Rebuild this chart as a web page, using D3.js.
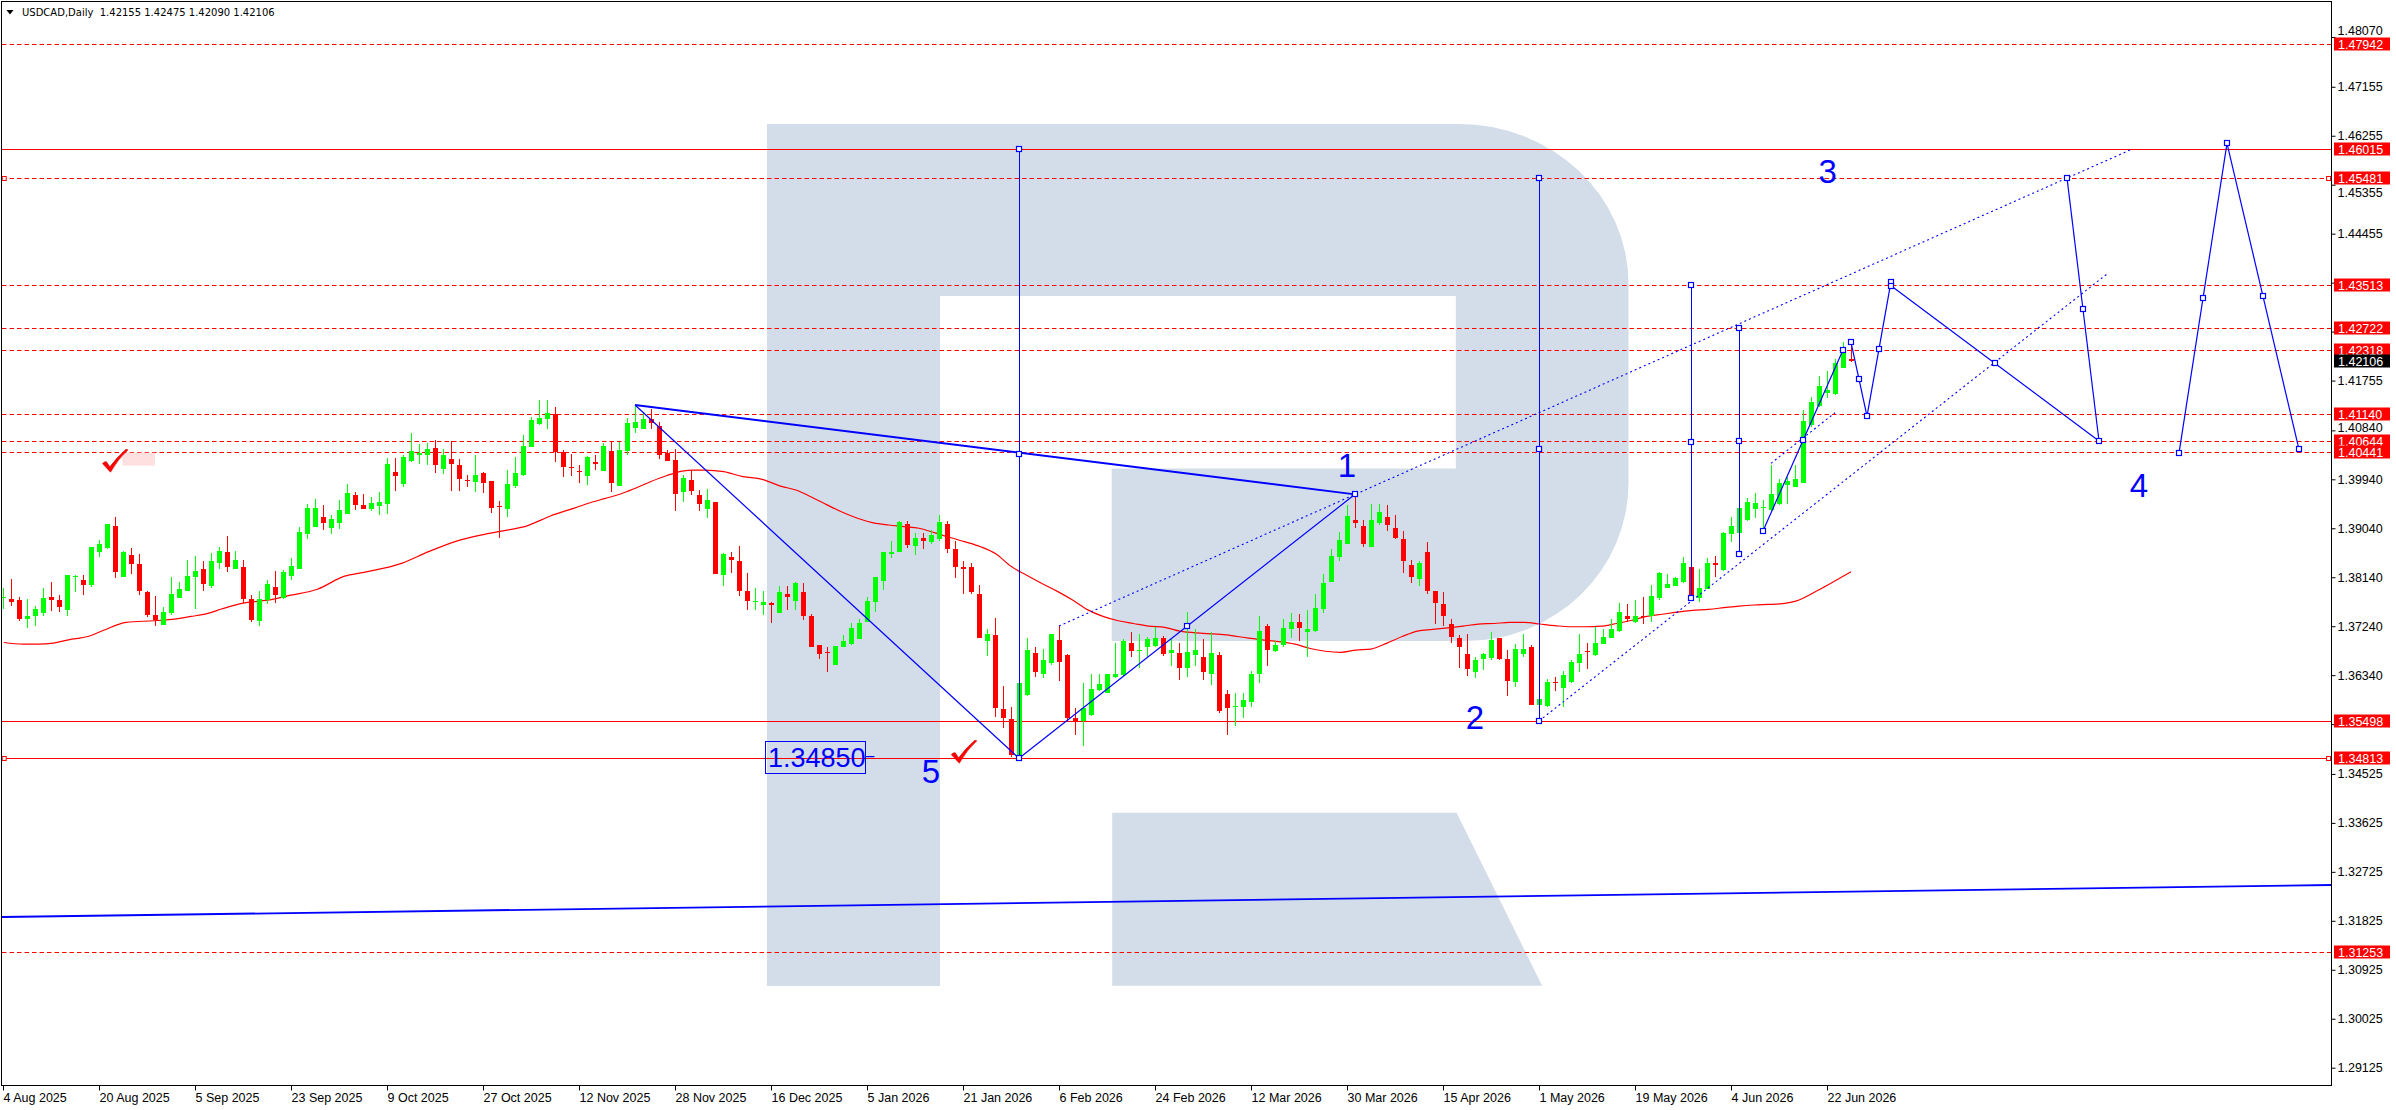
<!DOCTYPE html>
<html>
<head>
<meta charset="utf-8">
<script src="https://cdn.jsdelivr.net/npm/d3@7"></script>
<style>
html, body { margin: 0; padding: 0; background: #fff; }
svg { display: block; }
</style>
</head>
<body>
<svg id="chart" width="2396" height="1110"></svg>
<script>
// Data *************************************************************************
// daily candles, USDCAD, bar 0 = 4 Aug 2025
var openP = [
 1.3775,1.3774,1.3772,1.3737,1.3742,1.3748,1.3777,1.3772,1.3754,1.3814,1.3809,1.3799,
 1.3861,1.3868,1.3909,1.3815,1.3855,1.3838,1.3787,1.3745,1.3726,1.3748,1.3775,1.3789,
 1.3815,1.3829,1.3797,1.3840,1.3860,1.3830,1.3832,1.3774,1.3734,1.3772,1.3796,1.3775,
 1.3816,1.3830,1.3893,1.3907,1.3924,1.3905,1.3914,1.3930,1.3965,1.3947,1.3940,1.3945,
 1.3949,1.4008,1.3985,1.4028,1.4038,1.4038,1.4051,1.4013,1.4031,1.4020,1.3992,1.3989,
 1.4006,1.3990,1.3945,1.3939,1.3981,1.4002,1.4054,1.4095,1.4104,1.4114,1.4044,1.4016,
 1.4010,1.4001,1.4025,1.4010,1.4046,1.3982,1.4046,1.4089,1.4087,1.4105,1.4092,1.4042,
 1.4030,1.3971,1.3993,1.3966,1.3939,1.3952,1.3818,1.3851,1.3844,1.3789,1.3768,1.3763,
 1.3766,1.3749,1.3783,1.3771,1.3786,1.3743,1.3690,1.3677,1.3653,1.3686,1.3691,1.3700,
 1.3731,1.3769,1.3808,1.3856,1.3860,1.3911,1.3872,1.3886,1.3879,1.3884,1.3912,1.3866,
 1.3832,1.3832,1.3784,1.3696,1.3708,1.3572,1.3553,1.3484,1.3598,1.3674,1.3637,1.3656,
 1.3699,1.3671,1.3555,1.3549,1.3561,1.3607,1.3601,1.3630,1.3634,1.3693,1.3679,1.3686,
 1.3688,1.3703,1.3674,1.3674,1.3647,1.3671,1.3667,1.3637,1.3671,1.3599,1.3575,1.3576,
 1.3585,1.3636,1.3724,1.3678,1.3689,1.3719,1.3731,1.3713,1.3716,1.3755,1.3806,1.3852,
 1.3876,1.3919,1.3908,1.3870,1.3913,1.3925,1.3904,1.3884,1.3836,1.3810,1.3860,1.3789,
 1.3765,1.3728,1.3703,1.3673,1.3640,1.3664,1.3665,1.3702,1.3664,1.3621,1.3672,1.3686,
 1.3579,1.3578,1.3621,1.3610,1.3621,1.3657,1.3678,1.3671,1.3692,1.3703,1.3716,1.3742,
 1.3731,1.3743,1.3742,1.3775,1.3795,1.3798,1.3806,1.3832,1.3775,1.3792,1.3840,1.3827,
 1.3893,1.3895,1.3919,1.3939,1.3942,1.3937,1.3949,1.3984,1.3980,1.3988,1.4094,1.4129,
 1.4152,1.4151,1.4199,1.42155
];
var highP = [
 1.3794,1.3810,1.3778,1.3774,1.3762,1.3794,1.3806,1.3781,1.3818,1.3818,1.3818,1.3870,
 1.3882,1.3912,1.3925,1.3862,1.3868,1.3857,1.3789,1.3780,1.3760,1.3814,1.3806,1.3846,
 1.3853,1.3843,1.3859,1.3869,1.3890,1.3862,1.3846,1.3781,1.3788,1.3809,1.3826,1.3827,
 1.3849,1.3907,1.3949,1.3958,1.3947,1.3928,1.3956,1.3985,1.3970,1.3967,1.3961,1.3970,
 1.4033,1.4033,1.4039,1.4080,1.4059,1.4060,1.4066,1.4050,1.4065,1.4031,1.4002,1.4039,
 1.4008,1.3990,1.3954,1.4012,1.4035,1.4076,1.4108,1.4140,1.4140,1.4126,1.4048,1.4041,
 1.4020,1.4037,1.4039,1.4060,1.4062,1.4062,1.4106,1.4131,1.4117,1.4123,1.4100,1.4048,
 1.4050,1.4002,1.4011,1.3974,1.3976,1.3953,1.3858,1.3860,1.3871,1.3821,1.3794,1.3788,
 1.3769,1.3798,1.3797,1.3805,1.3804,1.3747,1.3690,1.3686,1.3688,1.3708,1.3729,1.3737,
 1.3778,1.3815,1.3861,1.3881,1.3917,1.3917,1.3896,1.3896,1.3901,1.3928,1.3918,1.3881,
 1.3843,1.3841,1.3800,1.3719,1.3739,1.3615,1.3576,1.3619,1.3703,1.3685,1.3683,1.3709,
 1.3724,1.3672,1.3573,1.3619,1.3636,1.3637,1.3637,1.3693,1.3700,1.3713,1.3709,1.3705,
 1.3722,1.3706,1.3701,1.3693,1.3751,1.3718,1.3700,1.3714,1.3677,1.3607,1.3601,1.3602,
 1.3642,1.3742,1.3728,1.3697,1.3737,1.3748,1.3746,1.3753,1.3784,1.3820,1.3865,1.3898,
 1.3947,1.3967,1.3919,1.3948,1.3948,1.3947,1.3928,1.3899,1.3846,1.3844,1.3878,1.3789,
 1.3787,1.3737,1.3708,1.3710,1.3668,1.3675,1.3713,1.3703,1.3680,1.3692,1.3710,1.3689,
 1.3590,1.3627,1.3630,1.3642,1.3661,1.3710,1.3694,1.3723,1.3718,1.3737,1.3766,1.3764,
 1.3773,1.3778,1.3800,1.3824,1.3820,1.3814,1.3851,1.3851,1.3829,1.3849,1.3853,1.3898,
 1.3924,1.3968,1.3959,1.3968,1.3956,1.4020,1.3994,1.3999,1.4020,1.4121,1.4146,1.4183,
 1.4193,1.4216,1.4247,1.42475
];
var lowP = [
 1.3755,1.3761,1.3734,1.3720,1.3724,1.3743,1.3752,1.3751,1.3743,1.3786,1.3781,1.3796,
 1.3852,1.3865,1.3813,1.3815,1.3820,1.3781,1.3740,1.3724,1.3726,1.3745,1.3775,1.3789,
 1.3756,1.3788,1.3794,1.3829,1.3824,1.3829,1.3766,1.3732,1.3725,1.3764,1.3767,1.3774,
 1.3809,1.3829,1.3884,1.3907,1.3901,1.3894,1.3903,1.3930,1.3938,1.3940,1.3936,1.3928,
 1.3930,1.3973,1.3979,1.4026,1.4023,1.4020,1.4006,1.4004,1.3973,1.3973,1.3979,1.3971,
 1.3968,1.3932,1.3887,1.3925,1.3978,1.4000,1.4053,1.4094,1.4087,1.4026,1.3999,1.4001,
 1.3988,1.3984,1.4012,1.4010,1.3970,1.3982,1.4038,1.4080,1.4087,1.4087,1.4031,1.4027,
 1.3936,1.3953,1.3965,1.3936,1.3923,1.3820,1.3798,1.3822,1.3780,1.3754,1.3753,1.3745,
 1.3729,1.3749,1.3754,1.3754,1.3735,1.3685,1.3663,1.3640,1.3653,1.3686,1.3690,1.3700,
 1.3731,1.3751,1.3791,1.3849,1.3860,1.3867,1.3854,1.3865,1.3876,1.3881,1.3858,1.3813,
 1.3783,1.3783,1.3702,1.3670,1.3558,1.3536,1.3484,1.3481,1.3596,1.3631,1.3628,1.3653,
 1.3623,1.3550,1.3524,1.3503,1.3559,1.3604,1.3601,1.3628,1.3633,1.3668,1.3648,1.3668,
 1.3686,1.3669,1.3650,1.3625,1.3631,1.3651,1.3625,1.3616,1.3565,1.3524,1.3541,1.3555,
 1.3576,1.3620,1.3651,1.3677,1.3686,1.3703,1.3697,1.3668,1.3714,1.3749,1.3805,1.3843,
 1.3875,1.3905,1.3870,1.3869,1.3910,1.3899,1.3884,1.3822,1.3803,1.3797,1.3784,1.3728,
 1.3725,1.3694,1.3648,1.3633,1.3629,1.3644,1.3662,1.3661,1.3596,1.3612,1.3667,1.3579,
 1.3550,1.3575,1.3604,1.3576,1.3619,1.3640,1.3645,1.3670,1.3691,1.3702,1.3714,1.3731,
 1.3729,1.3728,1.3731,1.3773,1.3794,1.3797,1.3804,1.3778,1.3769,1.3792,1.3814,1.3826,
 1.3879,1.3893,1.3918,1.3922,1.3901,1.3936,1.3947,1.3949,1.3979,1.3987,1.4091,1.4127,
 1.4143,1.4149,1.4198,1.42090
];
var closeP = [
 1.3778,1.3769,1.3737,1.3743,1.3755,1.3775,1.3772,1.3760,1.3818,1.3817,1.3799,1.3869,
 1.3875,1.3912,1.3824,1.3860,1.3838,1.3788,1.3745,1.3735,1.3751,1.3783,1.3792,1.3816,
 1.3826,1.3802,1.3844,1.3862,1.3832,1.3846,1.3774,1.3735,1.3774,1.3802,1.3781,1.3824,
 1.3835,1.3897,1.3942,1.3941,1.3914,1.3921,1.3938,1.3968,1.3947,1.3940,1.3950,1.3953,
 1.4022,1.4001,1.4035,1.4046,1.4042,1.4050,1.4020,1.4039,1.4022,1.3995,1.3991,1.4002,
 1.3988,1.3942,1.3943,1.3985,1.4005,1.4055,1.4103,1.4107,1.4115,1.4045,1.4017,1.4014,
 1.4007,1.4035,1.4022,1.4055,1.3988,1.4047,1.4098,1.4099,1.4105,1.4097,1.4039,1.4027,
 1.3967,1.3997,1.3973,1.3949,1.3956,1.3820,1.3857,1.3846,1.3789,1.3770,1.3770,1.3768,
 1.3763,1.3786,1.3778,1.3803,1.3743,1.3685,1.3673,1.3674,1.3688,1.3697,1.3720,1.3729,
 1.3770,1.3814,1.3860,1.3861,1.3916,1.3874,1.3887,1.3881,1.3892,1.3916,1.3866,1.3833,
 1.3830,1.3786,1.3702,1.3709,1.3573,1.3556,1.3487,1.3619,1.3680,1.3639,1.3662,1.3709,
 1.3659,1.3555,1.3550,1.3573,1.3609,1.3618,1.3637,1.3636,1.3696,1.3678,1.3681,1.3700,
 1.3702,1.3672,1.3681,1.3648,1.3677,1.3681,1.3640,1.3674,1.3569,1.3574,1.3577,1.3588,
 1.3637,1.3715,1.3680,1.3689,1.3720,1.3731,1.3721,1.3719,1.3757,1.3803,1.3853,1.3882,
 1.3927,1.3913,1.3876,1.3919,1.3933,1.3910,1.3887,1.3844,1.3815,1.3840,1.3789,1.3766,
 1.3742,1.3704,1.3686,1.3645,1.3661,1.3673,1.3699,1.3664,1.3624,1.3683,1.3682,1.3579,
 1.3590,1.3621,1.3619,1.3634,1.3658,1.3673,1.3677,1.3694,1.3705,1.3719,1.3751,1.3738,
 1.3743,1.3741,1.3780,1.3821,1.3802,1.3812,1.3840,1.3780,1.3794,1.3840,1.3837,1.3895,
 1.3908,1.3941,1.3952,1.3950,1.3943,1.3967,1.3988,1.3991,1.3995,1.4102,1.4137,1.4166,
 1.4159,1.4207,1.4232,1.42106
];

// moving average (bar index / price)
var maIdx = [0.1,2.5,4.4,6.3,8.2,10.6,12.5,15.4,18.8,20.7,23.5,25.5,27.4,30.2,33.1,36.0,39.3,42.7,45.1,49.9,
 53.2,56.6,59.9,62.8,65.6,68.5,71.4,73.4,75.3,77.2,79.1,81.0,83.0,84.9,86.3,87.7,90.1,92.5,94.9,97.3,
 99.2,101.1,103.0,105.0,106.9,108.8,110.7,112.6,114.5,116.4,118.4,120.3,122.2,124.1,126.0,127.9,129.8,131.8,133.7,135.6,
 137.5,139.4,141.3,143.2,145.2,147.1,150.0,152.9,155.7,158.6,161.5,163.4,165.3,167.2,169.1,171.0,173.0,174.9,176.8,178.7,
 180.6,182.5,184.4,186.4,188.3,190.2,192.1,194.0,195.9,197.8,199.8,201.7,203.6,205.5,207.4,209.3,211.2,213.2,215.1,217.0,
 218.9,220.8,222.1,224.1,227.0,229.2,231.0];
var maVal = [1.3694,1.3691,1.3691,1.3693,1.3699,1.3705,1.3716,1.3731,1.3734,1.3736,1.3742,1.3747,1.3756,1.3767,1.3772,1.3781,1.3792,1.3816,1.3823,1.3840,
 1.3861,1.3880,1.3892,1.3900,1.3909,1.3927,1.3941,1.3951,1.3959,1.3967,1.3978,1.3990,1.4001,1.4009,1.4011,1.4011,1.4008,1.3999,1.3994,1.3981,
 1.3974,1.3961,1.3947,1.3933,1.3922,1.3914,1.3910,1.3907,1.3904,1.3896,1.3887,1.3879,1.3870,1.3857,1.3834,1.3818,1.3803,1.3788,1.3772,1.3754,
 1.3742,1.3734,1.3729,1.3724,1.3722,1.3715,1.3711,1.3708,1.3702,1.3697,1.3691,1.3683,1.3678,1.3676,1.3680,1.3682,1.3693,1.3705,1.3715,1.3718,
 1.3721,1.3724,1.3728,1.3729,1.3731,1.3731,1.3728,1.3725,1.3723,1.3723,1.3724,1.3729,1.3735,1.3742,1.3746,1.3750,1.3753,1.3755,1.3758,1.3761,
 1.3763,1.3764,1.3765,1.3770,1.3791,1.3809,1.3824];

// axis labels
var dateLabels = ["4 Aug 2025","20 Aug 2025","5 Sep 2025","23 Sep 2025","9 Oct 2025","27 Oct 2025","12 Nov 2025",
 "28 Nov 2025","16 Dec 2025","5 Jan 2026","21 Jan 2026","6 Feb 2026","24 Feb 2026","12 Mar 2026","30 Mar 2026",
 "15 Apr 2026","1 May 2026","19 May 2026","4 Jun 2026","22 Jun 2026"];
var dateIdx = [0,12,24,36,48,60,72,84,96,108,120,132,144,156,168,180,192,204,216,228];
var priceTicks = [1.48070,1.47155,1.46255,1.45355,1.44455,1.43555,1.42655,1.41755,1.40840,1.39940,1.39040,
 1.38140,1.37240,1.36340,1.35440,1.34525,1.33625,1.32725,1.31825,1.30925,1.30025,1.29125];

// horizontal levels (red)
var levelVals = [1.47942,1.46015,1.45481,1.43513,1.42722,1.42318,1.41140,1.40644,1.40441,1.35498,1.34813,1.31253];
var levelSolid = [false,true,false,false,false,false,false,false,false,true,true,false];
var lastPrice = 1.42106;

// wave lines (blue, solid)
var waveFromIdx = [79,79,127,220,231,233,236,258,272,278];
var waveFromPrc = [1.41306,1.41306,1.34813,1.38990,1.42459,1.41100,1.43499,1.45481,1.40420,1.46116];
var waveToIdx = [127,169,169,230,233,236,262,262,278,287];
var waveToPrc = [1.34813,1.39664,1.39664,1.42318,1.41100,1.43572,1.40644,1.40644,1.46116,1.40492];

// vertical target lines
var vIdx = [127,192,211,217];
var vTop = [1.46015,1.45481,1.43513,1.42722];
var vBot = [1.34813,1.35498,1.37753,1.38562];

// channel lines (blue, dotted)
var dotFromIdx = [132,192,221];
var dotFromPrc = [1.37244,1.35498,1.40234];
var dotToIdx = [266,263,229];
var dotToPrc = [1.46000,1.43714,1.41164];

// long trend line
var trendIdx = [-0.125,291.1];
var trendPrc = [1.31895,1.32483];

// selection boxes on objects
var boxIdx = [127,127,127,192,192,192,211,211,211,217,217,217,148,169,220,225,230,231,232,233,234.5,236,236,249,262,258,260,272,275,278,282.5,287];
var boxPrc = [1.46015,1.40414,1.34813,1.45481,1.40490,1.35498,1.43513,1.40633,1.37753,1.42722,1.40642,1.38562,
 1.37239,1.39664,1.38990,1.40654,1.42318,1.42459,1.41780,1.41100,1.42336,1.43572,1.43499,1.42072,1.40644,
 1.45481,1.43063,1.40420,1.43268,1.46116,1.43304,1.40492];

// wave counts
var waveLabels = ["1","2","3","4","5"];
var waveLblIdx = [168.0,184.0,228.1,267.0,116.0];
var waveLblPrc = [1.39977,1.35345,1.45392,1.39620,1.34353];

// price tag object, check marks
var tagText = "1.34850";
var tagIdx = [95.3,107.8];
var tagPrc = [1.35136,1.34555];
var checkIdx = [14.0,120.1];
var checkPrc = [1.40276,1.34927];
var pinkIdx = [14.94,19.0];
var pinkPrc = [1.40429,1.40190];

// Chart ************************************************************************
var svg = d3.select("#chart");
var plotL = 2, plotT = 2, plotR = 2332, plotB = 1086;

var x = d3.scaleLinear().domain([0, 291]).range([3, 2331]);
var y = d3.scaleLinear().domain([1.29125, 1.48070]).range([1067.7, 37]);

svg.append("rect").attr("width", 2396).attr("height", 1110).style("fill", "#ffffff");

svg.append("clipPath").attr("id", "plotclip")
   .append("rect").attr("x", plotL).attr("y", plotT)
   .attr("width", plotR - plotL).attr("height", plotB - plotT);

var plot = svg.append("g").attr("clip-path", "url(#plotclip)");

// watermark logo
var wm = "#d3dde9";
plot.append("path")
    .attr("d", "M767,124 H1459 A169.5,160 0 0 1 1628.5,284 V483 A163,158 0 0 1 1465.5,641 H1111.7 V468.5 H1455.8 V296 H940 V986 H767 Z")
    .style("fill", wm);
plot.append("path")
    .attr("d", "M1112.2,812.7 H1456.6 L1542.1,985.7 H1112.2 Z")
    .style("fill", wm);

// red levels
function crisp(v){ return Math.round(v) + 0.5; }
levelVals.forEach(function(v, k){
    plot.append("line")
        .attr("x1", plotL).attr("x2", plotR)
        .attr("y1", crisp(y(v))).attr("y2", crisp(y(v)))
        .style("stroke", "#ff0000").style("stroke-width", 1)
        .style("stroke-dasharray", levelSolid[k] ? null : "4.5,3");
});
// little end markers on two levels
[1.45481, 1.34813].forEach(function(v){
    [0.15, 290.7].forEach(function(i){
        plot.append("rect").attr("x", x(i) - 2).attr("y", crisp(y(v)) - 2)
            .attr("width", 4).attr("height", 4)
            .style("fill", "#ffffff").style("stroke", "#ff0000").style("stroke-width", 1);
    });
});

// pink note + check marks
plot.append("rect")
    .attr("x", x(pinkIdx[0])).attr("y", y(pinkPrc[0]))
    .attr("width", x(pinkIdx[1]) - x(pinkIdx[0])).attr("height", y(pinkPrc[1]) - y(pinkPrc[0]))
    .style("fill", "#ffe0e0");
checkIdx.forEach(function(i, k){
    plot.append("path")
        .attr("transform", "translate(" + x(i) + "," + y(checkPrc[k]) + ")")
        .attr("d", "M-12.5,2.5 Q-10.5,0 -8.5,0.8 L-5.2,5.8 Q2,-4 11,-11.8 L13,-11.2 Q3,-2 -4.5,11.2 Z")
        .style("fill", "#ff0000").style("stroke", "#d40000").style("stroke-width", 0.6);
});

// moving average
var maLine = d3.line().x(function(d){ return x(d[0]); }).y(function(d){ return y(d[1]); }).curve(d3.curveMonotoneX);
plot.append("path")
    .datum(maIdx.map(function(d, k){ return [d, maVal[k]]; }))
    .attr("d", maLine)
    .style("fill", "none").style("stroke", "#ff0000").style("stroke-width", 1.2);

// candles
var candles = plot.append("g");
openP.forEach(function(o, i){
    var c = closeP[i], up = c >= o;
    var col = up ? "#00ff00" : "#ff0000";
    var cx = Math.round(x(i));
    var yh = Math.round(y(highP[i])), yl = Math.round(y(lowP[i]));
    candles.append("rect").attr("x", cx).attr("y", yh).attr("width", 1).attr("height", Math.max(1, yl - yh)).style("fill", col);
    var yt = Math.round(y(Math.max(o, c))), yb = Math.round(y(Math.min(o, c)));
    candles.append("rect").attr("x", cx - 2).attr("y", yt).attr("width", 5).attr("height", Math.max(1, yb - yt)).style("fill", col);
});

var blue = "#0000ff";

// long trend line
plot.append("line")
    .attr("x1", x(trendIdx[0])).attr("y1", y(trendPrc[0]))
    .attr("x2", x(trendIdx[1])).attr("y2", y(trendPrc[1]))
    .style("stroke", blue).style("stroke-width", 1.8);

// dotted channels
dotFromIdx.forEach(function(i, k){
    plot.append("line")
        .attr("x1", x(i)).attr("y1", y(dotFromPrc[k]))
        .attr("x2", x(dotToIdx[k])).attr("y2", y(dotToPrc[k]))
        .style("stroke", blue).style("stroke-width", 1.1).style("stroke-dasharray", "2,3");
});

// vertical lines
vIdx.forEach(function(i, k){
    plot.append("line")
        .attr("x1", crisp(x(i))).attr("x2", crisp(x(i)))
        .attr("y1", y(vTop[k])).attr("y2", y(vBot[k]))
        .style("stroke", blue).style("stroke-width", 1);
});

// wave lines
waveFromIdx.forEach(function(i, k){
    plot.append("line")
        .attr("x1", x(i)).attr("y1", y(waveFromPrc[k]))
        .attr("x2", x(waveToIdx[k])).attr("y2", y(waveToPrc[k]))
        .style("stroke", blue).style("stroke-width", k == 1 ? 1.8 : 1.2);
});

// boxes
boxIdx.forEach(function(i, k){
    plot.append("rect")
        .attr("x", Math.round(x(i)) - 2.5).attr("y", Math.round(y(boxPrc[k])) - 2.5)
        .attr("width", 5).attr("height", 5)
        .style("fill", "#ffffff").style("stroke", blue).style("stroke-width", 1.2);
});

// price tag 1.34850
plot.append("rect")
    .attr("x", crisp(x(tagIdx[0]))).attr("y", crisp(y(tagPrc[0])))
    .attr("width", Math.round(x(tagIdx[1]) - x(tagIdx[0]))).attr("height", Math.round(y(tagPrc[1]) - y(tagPrc[0])))
    .style("fill", "none").style("stroke", blue).style("stroke-width", 1);
plot.append("text")
    .attr("x", x(tagIdx[0]) + 2.5).attr("y", y(tagPrc[1]) - 5.5)
    .text(tagText)
    .style("font-family", "'Liberation Sans', Arial, sans-serif").style("font-size", "27px")
    .style("fill", blue);
plot.append("line")
    .attr("x1", x(tagIdx[1])).attr("x2", x(tagIdx[1]) + 9)
    .attr("y1", y(1.34843)).attr("y2", y(1.34843))
    .style("stroke", blue).style("stroke-width", 1.2);

// wave count labels
waveLabels.forEach(function(t, k){
    plot.append("text")
        .attr("x", x(waveLblIdx[k])).attr("y", y(waveLblPrc[k]))
        .attr("text-anchor", "middle")
        .text(t)
        .style("font-family", "'Liberation Sans', Arial, sans-serif").style("font-size", "33px")
        .style("fill", blue);
});

// frame
svg.append("rect")
   .attr("x", plotL - 0.5).attr("y", plotT - 0.5)
   .attr("width", plotR - plotL).attr("height", plotB - plotT)
   .style("fill", "none").style("stroke", "#000000").style("stroke-width", 1);

// axes
var axisFont = "'Liberation Sans', Arial, sans-serif";
var yAxis = svg.append("g")
    .attr("transform", "translate(" + (plotR - 0.5) + ",0)")
    .call(d3.axisRight(y).tickValues(priceTicks).tickSize(4).tickFormat(function(d){ return d.toFixed(5); }));
yAxis.select(".domain").remove();
yAxis.selectAll("text").style("font-family", axisFont).style("font-size", "12.5px").attr("x", 6).style("fill", "#000");

// tick labels that sit half under a level tag: keep them just clear of it
var tagYs = levelVals.concat([lastPrice]).map(function(v){ return Math.round(y(v)); });
yAxis.selectAll(".tick text").each(function(d){
    var ty = y(d);
    var near = tagYs.filter(function(t){ return Math.abs(t - ty) < 13; });
    if (!near.length) return;
    var t = near[0];
    if (Math.abs(t - ty) < 4.5) { d3.select(this).style("display", "none"); return; }
    // shift above or below the tag
    if (ty < t) d3.select(this).attr("dy", null).attr("y", (t - 6.5 - 3) - ty);
    else d3.select(this).attr("dy", null).attr("y", (t + 6.5 + 12) - ty);
});

var xAxis = svg.append("g")
    .attr("transform", "translate(0," + (plotB - 0.5) + ")")
    .call(d3.axisBottom(x).tickValues(dateIdx).tickSize(5).tickFormat(function(d, k){ return dateLabels[k]; }));
xAxis.select(".domain").remove();
xAxis.selectAll("text").style("font-family", axisFont).style("font-size", "12.5px")
     .attr("text-anchor", "start").attr("x", 0).style("fill", "#000");

// level price tags on the axis
function priceTag(v, fill){
    var yy = Math.round(y(v));
    svg.append("rect").attr("x", 2334).attr("y", yy - 6.5).attr("width", 56).attr("height", 13).style("fill", fill);
    svg.append("text").attr("x", 2338).attr("y", yy + 4.5).text(v.toFixed(5))
       .style("font-family", axisFont).style("font-size", "12.5px").style("fill", "#ffffff");
}
levelVals.forEach(function(v){ priceTag(v, "#ff0000"); });
priceTag(lastPrice, "#000000");

// header
svg.append("path").attr("d", "M6.5,10 H13.5 L10,14.5 Z").style("fill", "#000");
svg.append("text").attr("x", 22).attr("y", 16)
   .text("USDCAD,Daily  1.42155 1.42475 1.42090 1.42106")
   .style("font-family", "'DejaVu Sans', Tahoma, sans-serif").style("font-size", "10px")
   .style("white-space", "pre").style("fill", "#000");
</script>
</body>
</html>
